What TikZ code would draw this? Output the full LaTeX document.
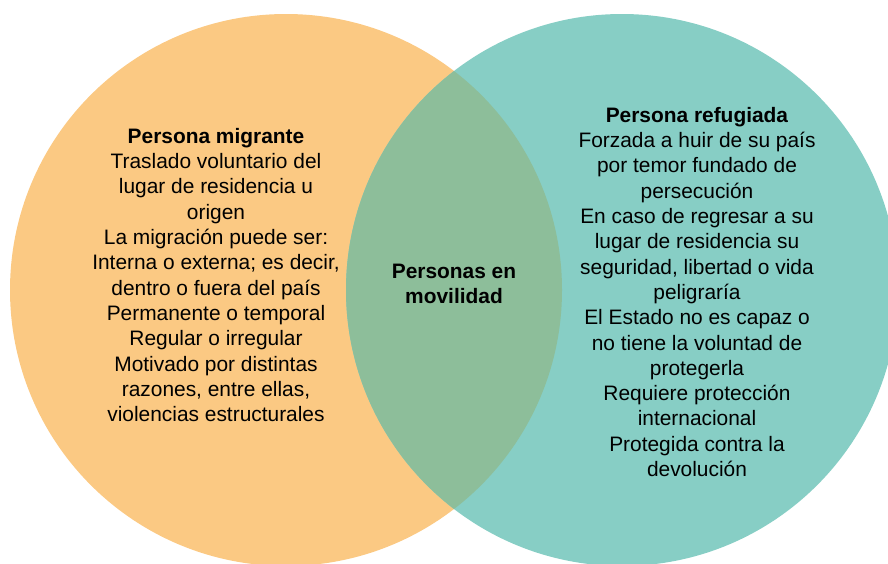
\documentclass[tikz,border=0pt]{standalone}
\usepackage{fontspec}
\setmainfont{Liberation Sans}
\definecolor{migr}{HTML}{FBC983}
\definecolor{refu}{HTML}{87CEC5}
\definecolor{both}{HTML}{8DBE9A}
\begin{document}
\begin{tikzpicture}[x=1pt,y=-1pt,
  txt/.style={align=center,inner sep=0pt,font=\fontsize{20.9}{25.3}\selectfont,text=black}]
\useasboundingbox (0,0) rectangle (888,563);
\begin{scope}
\clip (0,0) rectangle (888,563);
\fill[migr] (286,290) circle (276);
\fill[refu] (622,290) circle (276);
\begin{scope}
\clip (286,290) circle (276);
\fill[both] (622,290) circle (276);
\end{scope}
\end{scope}
\node[txt] (mig) at (216,275) {\textbf{Persona migrante}\\Traslado voluntario del\\lugar de residencia u\\origen\\La migración puede ser:\\Interna o externa; es decir,\\dentro o fuera del país\\Permanente o temporal\\Regular o irregular\\Motivado por distintas\\razones, entre ellas,\\violencias estructurales};
\node[txt] (mov) at (454,284) {\textbf{Personas en}\\\textbf{movilidad}};
\node[txt] (ref) at (697,292) {\textbf{Persona refugiada}\\Forzada a huir de su país\\por temor fundado de\\persecución\\En caso de regresar a su\\lugar de residencia su\\seguridad, libertad o vida\\peligraría\\El Estado no es capaz o\\no tiene la voluntad de\\protegerla\\Requiere protección\\internacional\\Protegida contra la\\devolución};
\end{tikzpicture}
\end{document}
